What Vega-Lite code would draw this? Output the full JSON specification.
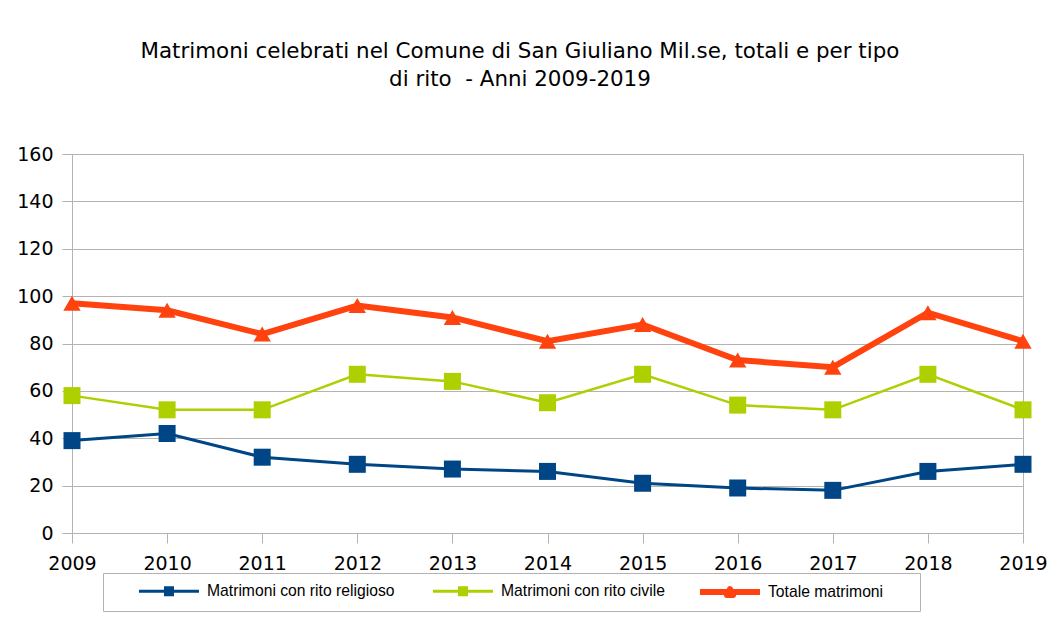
{
  "$schema": "https://vega.github.io/schema/vega-lite/v6.json",
  "width": 951,
  "height": 379,
  "autosize": "none",
  "padding": {"left": 72, "top": 154, "right": 40, "bottom": 86},
  "background": "white",
  "title": {
    "text": ["Matrimoni celebrati nel Comune di San Giuliano Mil.se, totali e per tipo", "di rito \u00a0- Anni 2009-2019"],
    "font": "DejaVu Sans",
    "fontSize": 21.4,
    "fontWeight": "normal",
    "color": "#000000",
    "anchor": "middle",
    "frame": "bounds",
    "lineHeight": 28,
    "offset": 55,
    "dx": -12
  },
  "data": {
    "values": [
      {"anno": 2009, "serie": "Matrimoni con rito religioso", "valore": 39},
      {"anno": 2010, "serie": "Matrimoni con rito religioso", "valore": 42},
      {"anno": 2011, "serie": "Matrimoni con rito religioso", "valore": 32},
      {"anno": 2012, "serie": "Matrimoni con rito religioso", "valore": 29},
      {"anno": 2013, "serie": "Matrimoni con rito religioso", "valore": 27},
      {"anno": 2014, "serie": "Matrimoni con rito religioso", "valore": 26},
      {"anno": 2015, "serie": "Matrimoni con rito religioso", "valore": 21},
      {"anno": 2016, "serie": "Matrimoni con rito religioso", "valore": 19},
      {"anno": 2017, "serie": "Matrimoni con rito religioso", "valore": 18},
      {"anno": 2018, "serie": "Matrimoni con rito religioso", "valore": 26},
      {"anno": 2019, "serie": "Matrimoni con rito religioso", "valore": 29},
      {"anno": 2009, "serie": "Matrimoni con rito civile", "valore": 58},
      {"anno": 2010, "serie": "Matrimoni con rito civile", "valore": 52},
      {"anno": 2011, "serie": "Matrimoni con rito civile", "valore": 52},
      {"anno": 2012, "serie": "Matrimoni con rito civile", "valore": 67},
      {"anno": 2013, "serie": "Matrimoni con rito civile", "valore": 64},
      {"anno": 2014, "serie": "Matrimoni con rito civile", "valore": 55},
      {"anno": 2015, "serie": "Matrimoni con rito civile", "valore": 67},
      {"anno": 2016, "serie": "Matrimoni con rito civile", "valore": 54},
      {"anno": 2017, "serie": "Matrimoni con rito civile", "valore": 52},
      {"anno": 2018, "serie": "Matrimoni con rito civile", "valore": 67},
      {"anno": 2019, "serie": "Matrimoni con rito civile", "valore": 52},
      {"anno": 2009, "serie": "Totale matrimoni", "valore": 97},
      {"anno": 2010, "serie": "Totale matrimoni", "valore": 94},
      {"anno": 2011, "serie": "Totale matrimoni", "valore": 84},
      {"anno": 2012, "serie": "Totale matrimoni", "valore": 96},
      {"anno": 2013, "serie": "Totale matrimoni", "valore": 91},
      {"anno": 2014, "serie": "Totale matrimoni", "valore": 81},
      {"anno": 2015, "serie": "Totale matrimoni", "valore": 88},
      {"anno": 2016, "serie": "Totale matrimoni", "valore": 73},
      {"anno": 2017, "serie": "Totale matrimoni", "valore": 70},
      {"anno": 2018, "serie": "Totale matrimoni", "valore": 93},
      {"anno": 2019, "serie": "Totale matrimoni", "valore": 81}
    ]
  },
  "encoding": {
    "x": {
      "field": "anno",
      "type": "quantitative",
      "scale": {"domain": [2009, 2019], "nice": false, "zero": false},
      "axis": {
        "title": null,
        "format": "d",
        "values": [2009, 2010, 2011, 2012, 2013, 2014, 2015, 2016, 2017, 2018, 2019],
        "grid": false,
        "domainColor": "#b3b3b3",
        "tickColor": "#b3b3b3",
        "tickSize": 10,
        "labelPadding": 11,
        "labelFont": "DejaVu Sans",
        "labelFontSize": 19,
        "labelColor": "#000000",
        "labelFlush": false,
        "labelOverlap": false
      }
    },
    "y": {
      "field": "valore",
      "type": "quantitative",
      "scale": {"domain": [0, 160], "nice": false},
      "axis": {
        "title": null,
        "values": [0, 20, 40, 60, 80, 100, 120, 140, 160],
        "grid": true,
        "gridColor": "#b3b3b3",
        "domainColor": "#b3b3b3",
        "tickColor": "#b3b3b3",
        "tickSize": 10,
        "labelPadding": 9,
        "labelFont": "DejaVu Sans",
        "labelFontSize": 19,
        "labelColor": "#000000"
      }
    },
    "color": {
      "field": "serie",
      "type": "nominal",
      "scale": {
        "domain": ["Matrimoni con rito religioso", "Matrimoni con rito civile", "Totale matrimoni"],
        "range": ["#004586", "#aecf00", "#ff420e"]
      },
      "legend": {
        "title": null,
        "orient": "none",
        "legendX": 31,
        "legendY": 419,
        "direction": "horizontal",
        "strokeColor": "#b3b3b3",
        "padding": 10,
        "columnPadding": 32,
        "labelFont": "Liberation Sans",
        "labelFontSize": 15.7,
        "labelLimit": 400,
        "labelColor": "#000000",
        "labelOffset": 8,
        "symbolSize": 100,
        "symbolType": "M-1,0H1M-0.117,-0.117H0.117V0.117H-0.117Z",
        "symbolStrokeWidth": 3,
        "encode": {
          "symbols": {
            "update": {
              "x": {"signal": "datum.value == 'Matrimoni con rito religioso' ? 56 : 30"},
              "shape": {"signal": "datum.value == 'Totale matrimoni' ? 'M5.9,0M-1,0H1M0,-0.1L0.1,0.1H-0.1Z' : 'M-1,0H1M-0.117,-0.117H0.117V0.117H-0.117Z'"},
              "size": {"value": 3600},
              "strokeWidth": {"signal": "datum.value == 'Totale matrimoni' ? 6 : 3"},
              "strokeJoin": {"signal": "datum.value == 'Totale matrimoni' ? 'round' : 'miter'"},
              "fill": {"signal": "scale('color', datum.value)"},
              "stroke": {"signal": "scale('color', datum.value)"},
              "fillOpacity": {"value": 1},
              "opacity": {"value": 1}
            }
          },
          "labels": {
            "update": {
              "x": {"signal": "datum.value == 'Matrimoni con rito religioso' ? 94 : 68"}
            }
          }
        }
      }
    }
  },
  "layer": [
    {
      "transform": [{"filter": "datum.serie == 'Matrimoni con rito religioso'"}],
      "mark": {"type": "line", "strokeWidth": 3}
    },
    {
      "transform": [{"filter": "datum.serie == 'Matrimoni con rito civile'"}],
      "mark": {"type": "line", "strokeWidth": 2.5}
    },
    {
      "transform": [{"filter": "datum.serie == 'Totale matrimoni'"}],
      "mark": {"type": "line", "strokeWidth": 6}
    },
    {
      "transform": [{"filter": "datum.serie != 'Totale matrimoni'"}],
      "mark": {"type": "point", "filled": true, "opacity": 1, "shape": "square", "size": 289}
    },
    {
      "transform": [{"filter": "datum.serie == 'Totale matrimoni'"}],
      "mark": {"type": "point", "filled": true, "opacity": 1, "shape": "triangle-up", "size": 300}
    }
  ],
  "config": {
    "view": {"stroke": "#b3b3b3", "strokeWidth": 1}
  }
}
